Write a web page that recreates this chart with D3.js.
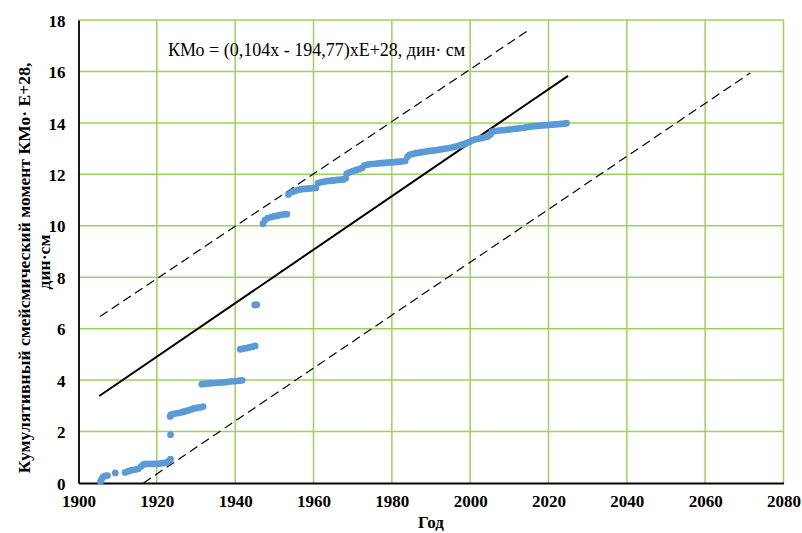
<!DOCTYPE html>
<html>
<head>
<meta charset="utf-8">
<script src="https://cdn.jsdelivr.net/npm/d3@7.9.0/dist/d3.min.js"></script>
<style>
  body { margin: 0; background: #fff; }
  svg text { font-family: "Liberation Serif", "Times New Roman", Times, "DejaVu Serif", serif; }
</style>
</head>
<body>
<svg id="chart" width="802" height="533"></svg>
<script>
// observed cumulative moment (year, KMo x E+28)
const obsYears = [
  1905.6, 1905.9, 1906.3, 1906.8, 1907.4, 1909.4, 1911.9, 1912.8, 1913.5, 1914.5,
  1915.3, 1916.0, 1916.6, 1917.3, 1918.2, 1919.0, 1919.8, 1920.6, 1921.3, 1922.0,
  1922.6, 1923.1, 1923.5, 1923.5, 1923.4, 1923.6, 1924.3, 1925.0, 1925.8, 1926.6,
  1927.3, 1928.0, 1928.8, 1929.5, 1930.2, 1931.0, 1931.8, 1931.5, 1932.3, 1933.2,
  1934.0, 1935.0, 1936.0, 1937.0, 1938.0, 1939.0, 1940.0, 1941.0, 1941.8, 1941.3,
  1942.0, 1942.8, 1943.6, 1944.4, 1945.1, 1945.0, 1945.5, 1947.1, 1947.6, 1948.3,
  1949.2, 1950.0, 1950.8, 1951.6, 1952.4, 1953.2, 1953.6, 1954.3, 1955.0, 1955.8,
  1956.6, 1957.4, 1958.2, 1959.0, 1959.8, 1960.6, 1961.2, 1962.0, 1962.8, 1963.6,
  1964.4, 1965.2, 1966.0, 1966.8, 1967.6, 1968.2, 1968.5, 1969.2, 1970.0, 1970.8,
  1971.6, 1972.4, 1973.0, 1973.8, 1974.6, 1975.4, 1976.2, 1977.0, 1977.8, 1978.6,
  1979.4, 1980.2, 1981.0, 1981.8, 1982.6, 1983.4, 1984.0, 1984.5, 1985.3, 1986.1,
  1986.9, 1987.7, 1988.5, 1989.3, 1990.1, 1990.9, 1991.7, 1992.5, 1993.3, 1994.1,
  1994.9, 1995.7, 1996.5, 1997.3, 1998.1, 1998.9, 1999.7, 2000.5, 2001.3, 2002.1,
  2002.9, 2003.7, 2004.5, 2005.2, 2005.6, 2006.4, 2007.2, 2008.0, 2008.8, 2009.6,
  2010.4, 2011.2, 2012.0, 2012.8, 2013.6, 2014.4, 2015.2, 2016.0, 2016.8, 2017.6,
  2018.4, 2019.2, 2020.0, 2020.8, 2021.6, 2022.4, 2023.2, 2024.0, 2024.6
];
const obsKMo = [
  0.05, 0.15, 0.24, 0.28, 0.29, 0.39, 0.41, 0.46, 0.50, 0.52,
  0.55, 0.65, 0.72, 0.74, 0.74, 0.74, 0.74, 0.75, 0.77, 0.78,
  0.80, 0.86, 0.93, 1.88, 2.59, 2.66, 2.69, 2.71, 2.73, 2.76,
  2.79, 2.82, 2.86, 2.90, 2.92, 2.94, 2.97, 3.84, 3.86, 3.87,
  3.88, 3.89, 3.90, 3.91, 3.93, 3.95, 3.96, 3.98, 3.99, 5.20,
  5.22, 5.24, 5.27, 5.30, 5.33, 6.92, 6.93, 10.08, 10.22, 10.30,
  10.34, 10.37, 10.39, 10.42, 10.44, 10.45, 11.22, 11.30, 11.34, 11.38,
  11.41, 11.43, 11.44, 11.45, 11.46, 11.47, 11.66, 11.70, 11.72, 11.74,
  11.75, 11.76, 11.78, 11.79, 11.80, 11.85, 12.02, 12.08, 12.12, 12.16,
  12.20, 12.25, 12.35, 12.38, 12.40, 12.41, 12.42, 12.43, 12.44, 12.45,
  12.46, 12.47, 12.48, 12.49, 12.50, 12.52, 12.68, 12.76, 12.79, 12.82,
  12.84, 12.86, 12.88, 12.90, 12.92, 12.93, 12.95, 12.97, 12.99, 13.01,
  13.03, 13.06, 13.09, 13.12, 13.16, 13.20, 13.25, 13.32, 13.36, 13.38,
  13.41, 13.44, 13.47, 13.55, 13.66, 13.68, 13.70, 13.71, 13.72, 13.74,
  13.75, 13.77, 13.78, 13.80, 13.81, 13.83, 13.85, 13.87, 13.88, 13.89,
  13.90, 13.91, 13.92, 13.93, 13.94, 13.95, 13.96, 13.97, 13.99
];

// trend KMo = 0.104x - 194.77, drawn between these years
const trendYears = [1905.3, 2025.0];
const trendSlope = 0.104;
const trendIntercept = -194.77;
// dashed envelope lines (end points)
const upperLine = [[1905.5, 6.47], [2014.4, 17.55]];
const lowerLine = [[1916.6, 0.0], [2071.5, 15.94]];

const xTicks = [1900, 1920, 1940, 1960, 1980, 2000, 2020, 2040, 2060, 2080];
const yTicks = [0, 2, 4, 6, 8, 10, 12, 14, 16, 18];

const svg = d3.select('#chart');
const margin = { left: 78.5, right: 783.5, top: 20, bottom: 483 };
const GRID = '#9BD35A';
const SERIF = '"Liberation Serif", "Times New Roman", Times, "DejaVu Serif", serif';

const x = d3.scaleLinear().domain([1900, 2080]).range([margin.left, margin.right]);
const y = d3.scaleLinear().domain([0, 18]).range([margin.bottom, margin.top]);

// grid
svg.append('g')
  .selectAll('line.v')
  .data(xTicks.slice(1))
  .enter().append('line')
  .attr('x1', d => x(d)).attr('x2', d => x(d))
  .attr('y1', y(0)).attr('y2', y(18))
  .attr('stroke', GRID).attr('stroke-width', 1.5);

svg.append('g')
  .selectAll('line.h')
  .data(yTicks.slice(1))
  .enter().append('line')
  .attr('x1', x(1900)).attr('x2', x(2080))
  .attr('y1', d => y(d)).attr('y2', d => y(d))
  .attr('stroke', GRID).attr('stroke-width', 1.5);

// axes
const xAxis = svg.append('g')
  .attr('transform', `translate(0,${y(0)})`)
  .call(d3.axisBottom(x).tickValues(xTicks).tickSize(0).tickPadding(12).tickFormat(d3.format('d')));
const yAxis = svg.append('g')
  .attr('transform', `translate(${x(1900)},0)`)
  .call(d3.axisLeft(y).tickValues(yTicks).tickSize(0).tickPadding(13));

[xAxis, yAxis].forEach(g => {
  g.attr('font-family', SERIF);
  g.select('.domain').attr('stroke', '#000').attr('stroke-width', 1.8);
  g.selectAll('text')
    .style('font-family', SERIF)
    .attr('font-weight', 'bold')
    .attr('font-size', 17)
    .attr('fill', '#000');
});
yAxis.selectAll('text').attr('dy', '0.36em');

// lines
const line = d3.line().x(d => x(d[0])).y(d => y(d[1]));
const trend = trendYears.map(t => [t, trendSlope * t + trendIntercept]);

svg.append('path').datum(upperLine).attr('d', line)
  .attr('fill', 'none').attr('stroke', '#000').attr('stroke-width', 1.2)
  .attr('stroke-dasharray', '9,5');
svg.append('path').datum(lowerLine).attr('d', line)
  .attr('fill', 'none').attr('stroke', '#000').attr('stroke-width', 1.2)
  .attr('stroke-dasharray', '9,5');
svg.append('path').datum(trend).attr('d', line)
  .attr('fill', 'none').attr('stroke', '#000').attr('stroke-width', 2);

// observed points
svg.append('g')
  .selectAll('circle')
  .data(obsYears.map((t, i) => [t, obsKMo[i]]))
  .enter().append('circle')
  .attr('cx', d => x(d[0]))
  .attr('cy', d => y(d[1]))
  .attr('r', 3.4)
  .attr('fill', '#5B9BD5');

// equation
svg.append('text')
  .attr('x', 168).attr('y', 56)
  .style('font-family', SERIF)
  .attr('font-size', 18)
  .text('КМо = (0,104х - 194,77)хЕ+28, дин· см');

// axis titles
svg.append('text')
  .attr('x', x(1990)).attr('y', 528)
  .attr('text-anchor', 'middle')
  .style('font-family', SERIF)
  .attr('font-weight', 'bold').attr('font-size', 17)
  .text('Год');

const yt = svg.append('text')
  .attr('transform', 'translate(30,268) rotate(-90)')
  .attr('text-anchor', 'middle')
  .style('font-family', SERIF)
  .attr('font-weight', 'bold').attr('font-size', 17.6);
yt.append('tspan').attr('x', 0).attr('y', 0)
  .text('Кумулятивный смейсмический момент КМо· E+28,');
yt.append('tspan').attr('x', 6).attr('y', 20)
  .text('дин·см');
</script>
</body>
</html>
